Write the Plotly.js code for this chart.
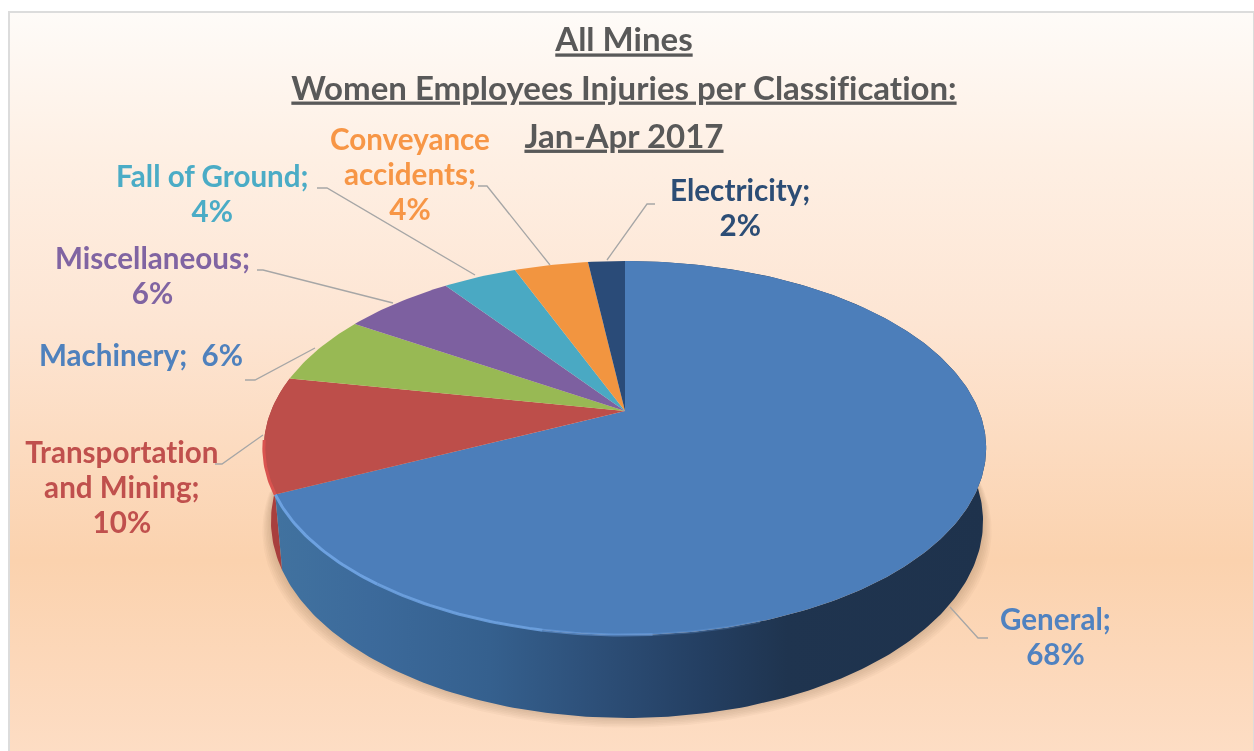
<!DOCTYPE html>
<html>
<head>
<meta charset="utf-8">
<script src="https://cdn.plot.ly/plotly-3.0.1.min.js"></script>
<style>
html,body{margin:0;padding:0;background:#fff;width:1254px;height:751px;overflow:hidden}
#frame{position:absolute;left:8px;top:11px;width:1243px;height:740px;border:2px solid #dcdcdc;border-bottom:none;
background:linear-gradient(to bottom,#fefbf8 0%,#feefe3 20%,#fde5d3 42%,#fbd2ae 74%,#fdddc4 100%)}
#chart{position:absolute;left:0;top:0;width:1254px;height:751px;filter:blur(0.5px)}
#chart text,#chart tspan{font-variant-ligatures:none !important;font-feature-settings:"liga" 0,"clig" 0 !important}
</style>
</head>
<body>
<div id="frame"></div>
<div id="chart"></div>
<script>
// Data, clockwise from twelve o'clock
const categories = ['General','Transportation and Mining','Machinery','Miscellaneous','Fall of Ground','Conveyance accidents','Electricity'];
const shares = [68,10,6,6,4,4,2];
const labelNames = ['General;','Transportation<br>and Mining;','Machinery;','Miscellaneous;','Fall of Ground;','Conveyance<br>accidents;','Electricity;'];
const labelSeparators = ['<br>','<br>','&nbsp;&nbsp;','<br>','<br>','<br>','<br>'];
const sliceColors = ['#4c7eba','#bd4e4a','#98b954','#7d60a0','#4aa9c3','#f29540','#2a4b78'];
const labelColors = ['#5082c0','#c0504d','#4f81bd','#8064a2','#4bacc6','#f79646','#2c4d75'];
const titleLines = ['All Mines','Women Employees Injuries per Classification:','Jan-Apr 2017'];

// Label anchors and leader lines, axis units
const labelX = [1055,122,141,152,212,410,740];
const labelY = [635.5,486,354,275,193,173.5,206.5];
const leaderX = [[988,978,950],[215,222,263],[245,255,315],[257,263,393],[317,327,475],[478,487,550],[655,647,607]];
const leaderY = [[638,638,607],[464,464,435],[380,380,348],[270,270,303],[188,188,275],[186,186,265],[204,204,260]];

// Perspective disc geometry, axis units
const cx = 625, apexY = 411, B = 354, A = 179.7, k = -0.198;
const cxLow = 627, apexLow = 482.3, BLow = 349, ALow = 189;
const project = (f, x0, y0, b, a) => {
  const t = 2*Math.PI*f, u = Math.sin(t), v = -Math.cos(t), d = 1 + k*v;
  return [x0 + b*u/d, y0 + a*v/d];
};
const pt = f => project(f, cx, apexY, B, A);
const low = f => project(f, cxLow, apexLow, BLow, ALow);
const arc = (fn, a, b) => {
  const n = Math.max(2, Math.ceil(Math.abs(b-a)*400)), out = [];
  for (let i = 0; i <= n; i++) out.push(fn(a + (b-a)*i/n));
  return out;
};
const xs = p => p.map(q => q[0]), ys = p => p.map(q => q[1]);

const traces = [];
const poly = (p, extra) => traces.push(Object.assign({
  type:'scatter', mode:'lines', x:xs(p), y:ys(p), fill:'toself',
  line:{width:0}, hoverinfo:'skip', showlegend:false
}, extra));

const total = shares.reduce((s,v)=>s+v,0);
const fr = []; let acc = 0;
shares.forEach(v => { fr.push([acc/total,(acc+v)/total]); acc += v; });

// soft shadow under the wall
const wallEnd = fr[1][1];
for (let i = 6; i >= 1; i--) {
  const p = arc(low, 0.13, wallEnd-0.03).map(q => [cxLow+(q[0]-cxLow)*(1+i*0.004), q[1]+i*1.6]);
  poly(p, {fillcolor:'rgba(110,75,45,0.04)'});
}
// side walls
const wall = (a,b) => arc(pt,a,b).concat(arc(low,b,a));
poly(wall(fr[1][0],fr[1][1]), {fillcolor:'#a83f3d'});
poly(wall(fr[0][0],fr[0][1]), {
  fillgradient:{type:'horizontal',start:277,stop:986,colorscale:[
    [0,'#41729f'],[0.13,'#3c6a9b'],[0.3,'#35608e'],[0.45,'#2d4f78'],[0.6,'#243f62'],[0.72,'#1f344f'],[1,'#1e324c']]}
});
// top faces
fr.forEach((r,i) => {
  const p = [[cx,apexY]].concat(arc(pt,r[0],r[1]));
  p.push([cx,apexY]);
  poly(p, {fillcolor:sliceColors[i], name:categories[i]});
});
// bevel highlight along the front rim
[[0.68,0.60,0.95],[0.60,0.53,0.85],[0.53,0.49,0.55],[0.49,0.45,0.25]].forEach(s => {
  const p = arc(pt,s[0],s[1]);
  traces.push({type:'scatter',mode:'lines',x:xs(p),y:ys(p),line:{color:'#6fa3e3',width:3},opacity:s[2],hoverinfo:'skip',showlegend:false});
});
{
  const p = arc(pt,0.68,0.725);
  traces.push({type:'scatter',mode:'lines',x:xs(p),y:ys(p),line:{color:'#d9534f',width:3},hoverinfo:'skip',showlegend:false});
}
// leader lines
leaderX.forEach((lx,i) => traces.push({type:'scatter',mode:'lines',x:lx,y:leaderY[i],line:{color:'#a6a6a6',width:1.3},hoverinfo:'skip',showlegend:false}));

const sized = (t, px) => t.split('<br>').map(s => '<span style="font-size:'+px+'px"><b>'+s+'</b></span>').join('<br>');
const annotations = categories.map((c,i) => ({
  x:labelX[i], y:labelY[i], xref:'x', yref:'y', xanchor:'center', yanchor:'middle', align:'center', showarrow:false,
  text:sized(labelNames[i]+labelSeparators[i]+shares[i]+'%', 29.6),
  font:{family:'Lato, sans-serif', size:27, color:labelColors[i]}
}));

const layout = {
  width:1254, height:751, margin:{l:0,r:0,t:0,b:0},
  paper_bgcolor:'rgba(0,0,0,0)', plot_bgcolor:'rgba(0,0,0,0)', showlegend:false,
  title:{
    text:titleLines.map(t => '<span style="font-size:33px"><u><b>'+t+'</b></u></span>').join('<br>'),
    font:{family:'Lato, sans-serif', size:37, color:'#595959'},
    x:0.4976, xanchor:'center', y:0.9315, yanchor:'top'
  },
  xaxis:{range:[0,1254],visible:false,fixedrange:true},
  yaxis:{range:[751,0],visible:false,fixedrange:true},
  annotations
};
Plotly.newPlot('chart', traces, layout, {displayModeBar:false, staticPlot:true});
</script>
</body>
</html>
